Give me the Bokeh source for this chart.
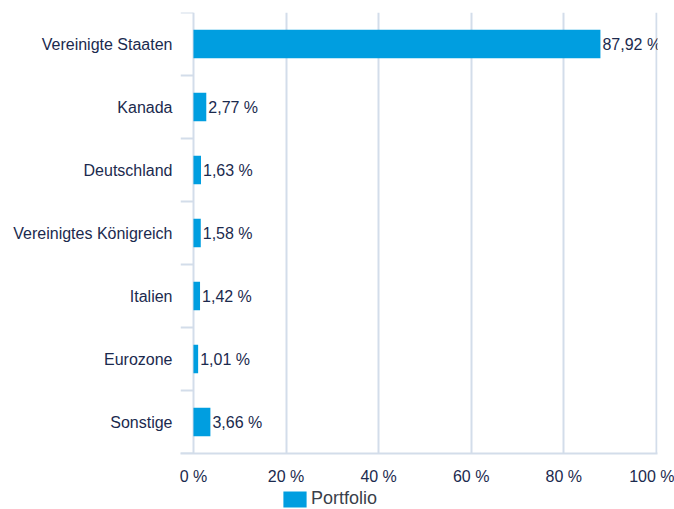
from bokeh.plotting import figure
from bokeh.layouts import column
from bokeh.models import Range1d, FixedTicker, Legend, LegendItem, ColumnDataSource
from bokeh.core.properties import value
from bokeh.embed import file_html
from bokeh.resources import INLINE

categories = ["Vereinigte Staaten", "Kanada", "Deutschland", "Vereinigtes Königreich",
              "Italien", "Eurozone", "Sonstige"]
values = [87.92, 2.77, 1.63, 1.58, 1.42, 1.01, 3.66]
x_ticks = [0, 20, 40, 60, 80, 100]
x_tick_labels = ["0 %", "20 %", "40 %", "60 %", "80 %", "100 %"]
series_name = "Portfolio"

FONT = "Liberation Sans"
TXT = "#1b2a4e"
BAR = "#009ee0"
GRID = "#d3ddea"

n = len(categories)
ypos = [n - 1 - i for i in range(n)]

src = ColumnDataSource(dict(
    y=ypos, v=values,
    lab=[f"{v:.2f}".replace(".", ",") + " %" for v in values],
))

p = figure(width=674, height=489, output_backend="svg", toolbar_location=None,
           x_range=Range1d(-2.8, 100.25), y_range=Range1d(-0.5, n - 0.5),
           min_border_left=180, min_border_right=17, min_border_top=12, min_border_bottom=36)
p.outline_line_color = None
p.background_fill_color = "white"
p.border_fill_color = "white"

# grid
p.xgrid.ticker = FixedTicker(ticks=x_ticks)
p.xgrid.grid_line_color = GRID
p.xgrid.grid_line_width = 2
p.ygrid.grid_line_color = None

# x axis
p.xaxis.ticker = FixedTicker(ticks=x_ticks)
p.xaxis.major_label_overrides = {t: l for t, l in zip(x_ticks, x_tick_labels)}
p.xaxis.axis_line_color = GRID
p.xaxis.axis_line_width = 2
p.xaxis.major_tick_line_color = None
p.xaxis.minor_tick_line_color = None
p.xaxis.major_label_standoff = 8
p.xaxis.major_label_text_font = FONT
p.xaxis.major_label_text_font_size = "16px"
p.xaxis.major_label_text_color = TXT

# y axis (category labels)
p.yaxis.ticker = FixedTicker(ticks=ypos)
p.yaxis.major_label_overrides = {y: c for y, c in zip(ypos, categories)}
p.yaxis.axis_line_color = None
p.yaxis.major_tick_line_color = None
p.yaxis.minor_tick_line_color = None
p.yaxis.major_label_standoff = 2
p.yaxis.major_label_text_font = FONT
p.yaxis.major_label_text_font_size = "16px"
p.yaxis.major_label_text_color = TXT

# category boundary ticks
bounds = [i - 0.5 for i in range(n + 1)]
p.segment(x0=[-2.8] * len(bounds), x1=[0] * len(bounds), y0=bounds, y1=bounds,
          line_color=GRID, line_width=2)

p.hbar(y="y", right="v", left=0, height=0.45, source=src,
       fill_color=BAR, line_color=None)
p.text(x="v", y="y", text="lab", source=src, x_offset=2,
       text_baseline="middle", text_align="left",
       text_font=value(FONT), text_font_size="16px", text_color=TXT)

# legend strip
p2 = figure(width=674, height=20, output_backend="svg", toolbar_location=None,
            x_range=Range1d(0, 674), y_range=Range1d(0, 20),
            x_axis_type=None, y_axis_type=None,
            min_border_left=0, min_border_right=0, min_border_top=0, min_border_bottom=0)
p2.outline_line_color = None
p2.background_fill_color = "white"
p2.border_fill_color = "white"
p2.grid.visible = False
r2 = p2.hbar(y=[-100], right=[1], left=0, height=1, fill_color=BAR, line_color=None)
legend = Legend(items=[LegendItem(label=series_name, renderers=[r2])],
                location=(100, 0), orientation="horizontal",
                background_fill_alpha=0, border_line_color=None,
                label_text_font=FONT, label_text_font_size="18px", label_text_color="#3a3f4a",
                label_height=20, glyph_width=29, glyph_height=20,
                padding=0, margin=0, label_standoff=2, spacing=0)
p2.add_layout(legend, "center")

layout = column(p, p2, spacing=0)
open("out.html", "w").write(file_html(layout, INLINE))
